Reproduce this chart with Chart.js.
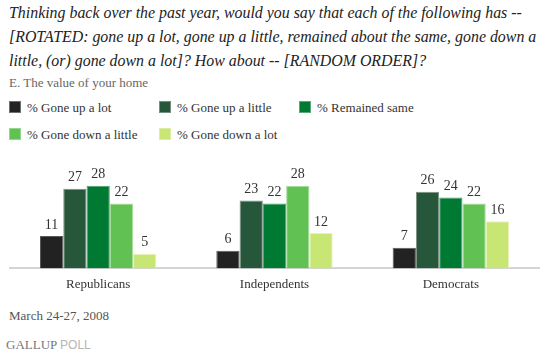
<!DOCTYPE html>
<html>
<head>
<meta charset='utf-8'>
<script src='https://cdn.jsdelivr.net/npm/chart.js@4/dist/chart.umd.min.js'></script>
<style>
  body { margin: 0; width: 546px; height: 361px; background: #fff; position: relative; overflow: hidden; font-family: 'Liberation Serif', serif; }
  .title { position: absolute; left: 9px; top: 1px; width: 540px; white-space: nowrap; font-style: italic; font-size: 15.9px; line-height: 24px; color: #222; }
  .sub { position: absolute; left: 9px; top: 75px; font-size: 13px; color: #666; }
  .item { position: absolute; white-space: nowrap; font-size: 13px; color: #333; }
  .item span.sw { position: absolute; left: 0; top: 1px; width: 12px; height: 12px; box-sizing: border-box; border: 1px solid rgba(255,255,255,0.35); }
  .item span.tx { position: absolute; left: 18px; top: 0; line-height: 15px; }
  #wrap { position: absolute; left: 0; top: 140px; width: 546px; height: 165px; }
  .foot { position: absolute; left: 9px; top: 308px; font-size: 13px; color: #555; }
  .logo { position: absolute; left: 6px; top: 337px; font-size: 13px; color: #777; }
  .logo b { font-weight: normal; font-family: 'Liberation Sans', sans-serif; color: #b5b5b5; font-size: 12px; }
</style>
</head>
<body>
<div class='title'>Thinking back over the past year, would you say that each of the following has --<br>[ROTATED: gone up a lot, gone up a little, remained about the same, gone down a<br>little, (or) gone down a lot]? How about -- [RANDOM ORDER]?</div>
<div class='sub'>E. The value of your home</div>
<div id='legend'></div>
<div id='wrap'><canvas id='myChart'></canvas></div>
<div class='foot'>March 24-27, 2008</div>
<div class='logo'>GALLUP <b>POLL</b></div>
<script>
const categories = ['Republicans', 'Independents', 'Democrats'];
const seriesNames = ['% Gone up a lot', '% Gone up a little', '% Remained same', '% Gone down a little', '% Gone down a lot'];
const upALot = [11, 6, 7];
const upALittle = [27, 23, 26];
const remainedSame = [28, 22, 24];
const downALittle = [22, 28, 22];
const downALot = [5, 12, 16];

const colors = ['#222222', '#27573a', '#007a33', '#62c153', '#c8e673'];
const borders = ['#5a5a5a', '#7f8f85', '#4f9d70', '#a6dd9c', '#e6f3bd'];

// legend positions (left, top)
const legendPos = [[9, 100], [159, 100], [299, 100], [9, 127], [159, 127]];
const legendEl = document.getElementById('legend');
seriesNames.forEach((name, i) => {
    const d = document.createElement('div');
    d.className = 'item';
    d.style.left = legendPos[i][0] + 'px';
    d.style.top = legendPos[i][1] + 'px';
    d.innerHTML = '<span class=sw style=background:' + colors[i] + '></span><span class=tx>' + name + '</span>';
    legendEl.appendChild(d);
});

const allSeries = [upALot, upALittle, remainedSame, downALittle, downALot];

// value labels above each bar
const valueLabels = {
    id: 'valueLabels',
    afterDatasetsDraw(chart) {
        const ctx = chart.ctx;
        ctx.save();
        ctx.font = '14px Liberation Serif, serif';
        ctx.fillStyle = '#333';
        ctx.textAlign = 'center';
        ctx.textBaseline = 'bottom';
        chart.data.datasets.forEach((ds, i) => {
            chart.getDatasetMeta(i).data.forEach((bar, j) => {
                ctx.fillText(ds.data[j], bar.x, bar.y - 4);
            });
        });
        ctx.restore();
    }
};

new Chart(document.getElementById('myChart'), {
    type: 'bar',
    data: {
        labels: categories,
        datasets: allSeries.map((vals, i) => ({
            label: seriesNames[i],
            data: vals,
            backgroundColor: colors[i],
            borderColor: borders[i],
            borderWidth: 1,
            categoryPercentage: 0.66,
            barPercentage: 1.0
        }))
    },
    options: {
        responsive: true,
        maintainAspectRatio: false,
        animation: false,
        layout: { padding: { left: 10, right: 7, top: 34, bottom: 13 } },
        plugins: { legend: { display: false }, tooltip: { enabled: false } },
        scales: {
            x: {
                grid: { display: false },
                border: { display: true, color: '#d4d4d4', width: 2 },
                ticks: { color: '#333', font: { family: 'Liberation Serif, serif', size: 13 }, padding: 0 }
            },
            y: {
                display: false,
                min: 0,
                max: 32
            }
        }
    },
    plugins: [valueLabels]
});
</script>
</body>
</html>
